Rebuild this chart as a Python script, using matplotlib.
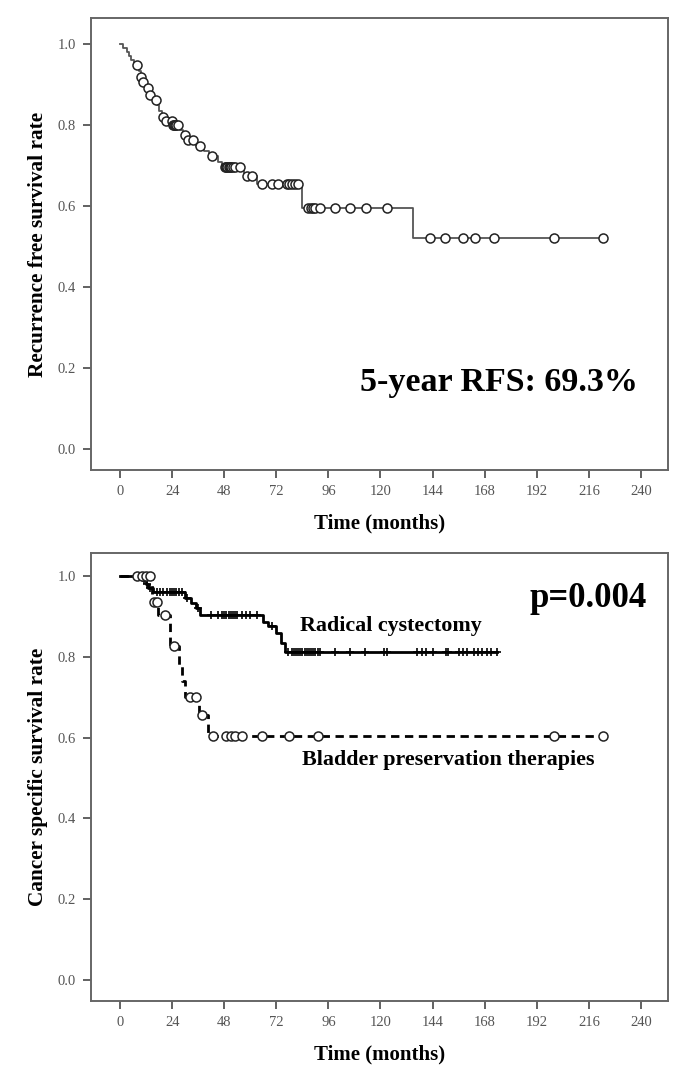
import numpy as np
import matplotlib
matplotlib.use('Agg')
import matplotlib.pyplot as plt

plt.rcParams['font.family'] = ['Liberation Serif', 'DejaVu Serif']

# ---- recurrence free survival (top) ----
rfs_event_t = [1.5, 3, 4, 5, 6.5, 8.5, 9.5, 10.5, 12, 13.5, 15, 17, 18, 19.5, 21, 24,
               27.5, 29, 31, 35, 38.5, 41, 45, 47, 57, 63, 84, 135]
rfs_surv = [0.99, 0.98, 0.97, 0.96, 0.948, 0.933, 0.919, 0.905, 0.89, 0.875, 0.862, 0.848,
            0.835, 0.82, 0.81, 0.80, 0.788, 0.775, 0.763, 0.749, 0.736, 0.723, 0.709, 0.695,
            0.675, 0.654, 0.596, 0.521]
rfs_cens = [7.7, 9.7, 10.7, 12.8, 13.8, 16.6, 20, 21.2, 23.8, 24.4, 25, 25.5, 26, 26.7,
            30, 31.2, 33.7, 36.9, 42.5, 48.4, 49, 49.5, 50, 50.5, 51, 52, 53, 55.3, 58.4,
            61, 65.6, 69.9, 73, 76.8, 78, 79.2, 80.5, 82.1, 86.7, 88, 89, 90, 92.2, 99,
            106, 113.4, 122.9, 142.9, 149.8, 158.2, 163.6, 172.5, 200, 222.7]

# ---- cancer specific survival (bottom) ----
rc_event_t = [10, 12, 13, 15, 30, 32.5, 35, 37, 66, 68, 72, 74, 76]
rc_surv = [0.99, 0.98, 0.97, 0.96, 0.945, 0.933, 0.921, 0.903, 0.885, 0.875, 0.858, 0.835, 0.813]
rc_cens = [11, 12.5, 14, 17, 18.5, 20, 21.5, 23, 24, 25, 26, 27, 28.5, 31, 36, 42, 45, 47,
           48, 49, 50, 51, 52, 53, 54, 56, 58, 60, 63, 70, 77.5, 79, 80, 81, 82, 83, 84,
           85, 86, 87, 88, 89, 90, 91, 92, 99, 106, 113, 121.6, 123, 137, 139, 141, 144,
           150, 151, 156, 158, 160, 163, 165, 167, 169, 171, 173.7]

bp_event_t = [14.5, 17.7, 23, 27, 28.5, 30, 36.5, 40.5]
bp_surv = [0.935, 0.903, 0.827, 0.78, 0.74, 0.701, 0.656, 0.605]
bp_cens = [7.7, 10, 12, 13.8, 15.5, 16.9, 20.7, 25, 32, 35, 37.6, 43, 49, 51, 53, 56,
           65.6, 78, 91, 200, 222.7]

xticks = [0, 24, 48, 72, 96, 120, 144, 168, 192, 216, 240]
yticks = [0.0, 0.2, 0.4, 0.6, 0.8, 1.0]


def level(ev_t, surv, t):
    idx = np.searchsorted(ev_t, t, side='right')
    s = np.concatenate([[1.0], surv])
    return s[idx]


def km(ax, ev_t, surv, cens, **kw):
    end = max(cens)
    x = [0] + list(ev_t) + [end]
    y = [1.0] + list(surv) + [surv[-1]]
    ax.step(x, y, where='post', **kw)
    return np.array(cens), level(np.array(ev_t), np.array(surv), np.array(cens))


def style(ax, ylab, ylim):
    ax.set_xlim(-13.4, 252.5)
    ax.set_ylim(*ylim)
    ax.set_xticks(xticks)
    ax.set_yticks(yticks)
    ax.set_yticklabels(['%.1f' % v for v in yticks])
    for s in ax.spines.values():
        s.set_color('#666666')
        s.set_linewidth(1.4)
    ax.tick_params(direction='out', length=6, width=1.3, color='#555555',
                   labelcolor='#555555', labelsize=10.5, pad=5)
    ax.set_xlabel('Time (months)', fontsize=15, fontweight='bold', labelpad=11)
    ax.set_ylabel(ylab, fontsize=15.3, fontweight='bold', labelpad=7)


fig = plt.figure(figsize=(6.76, 10.76), dpi=100)
ax1 = fig.add_axes([0.1346, 0.5632, 0.8536, 0.4201])
ax2 = fig.add_axes([0.1346, 0.0697, 0.8536, 0.4164])

cx, cy = km(ax1, rfs_event_t, rfs_surv, rfs_cens, color='#555555', lw=1.3)
ax1.plot(cx, cy, 'o', ms=6.5, mfc='white', mec='#222222', mew=1.1, ls='none')
style(ax1, 'Recurrence free survival rate', (-0.052, 1.064))
ax1.text(174.7, 0.163, '5-year RFS: 69.3%', fontsize=24.5, fontweight='bold',
         ha='center', va='center')

cx, cy = km(ax2, rc_event_t, rc_surv, rc_cens, color='black', lw=2.0)
ax2.plot(cx, cy, '+', ms=6, mec='black', mew=1.2, ls='none')
cx, cy = km(ax2, bp_event_t, bp_surv, bp_cens, color='black', lw=2.0, ls=(0, (3, 2)))
ax2.plot(cx, cy, 'o', ms=6.5, mfc='white', mec='#222222', mew=1.1, ls='none')
style(ax2, 'Cancer specific survival rate', (-0.052, 1.057))
ax2.text(215.7, 0.945, 'p=0.004', fontsize=25, fontweight='bold', ha='center', va='center')
ax2.text(83, 0.876, 'Radical cystectomy', fontsize=15.8, fontweight='bold', ha='left', va='center')
ax2.text(83.9, 0.545, 'Bladder preservation therapies', fontsize=15.8, fontweight='bold',
         ha='left', va='center')

fig.savefig('out.png', dpi=100)
